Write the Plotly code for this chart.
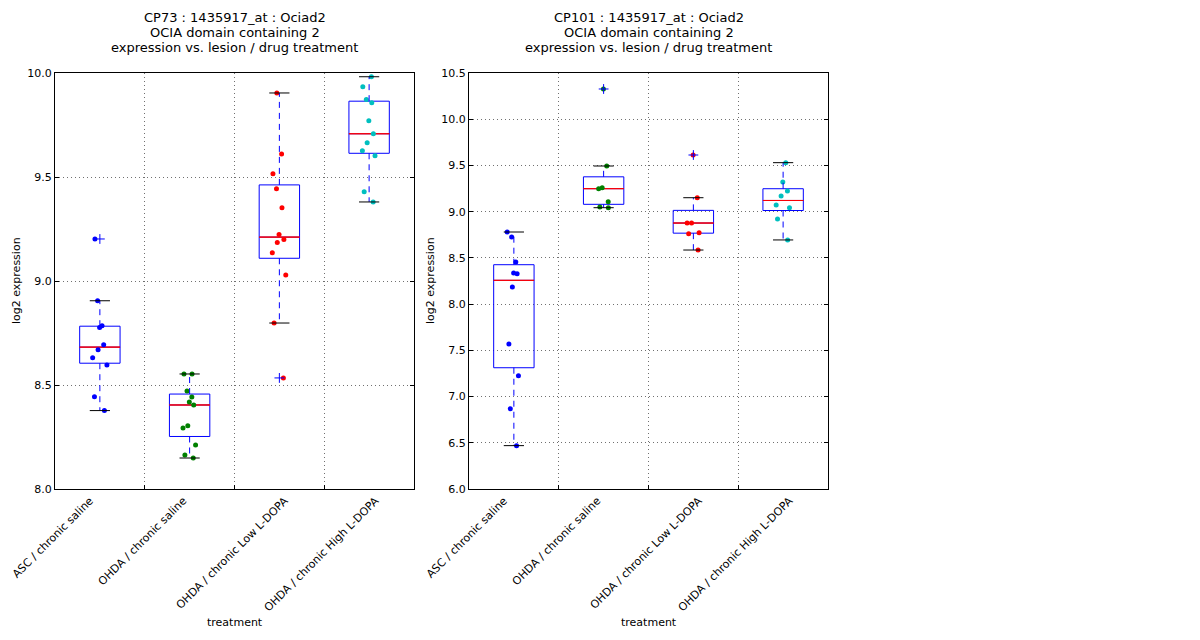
import numpy as np
import plotly.graph_objects as go

# ---------------- data ----------------
categories = ["ASC / chronic saline", "OHDA / chronic saline",
              "OHDA / chronic Low L-DOPA", "OHDA / chronic High L-DOPA"]
title_lines_cp73 = ["CP73 : 1435917_at : Ociad2", "OCIA domain containing 2",
                    "expression vs. lesion / drug treatment"]
title_lines_cp101 = ["CP101 : 1435917_at : Ociad2", "OCIA domain containing 2",
                     "expression vs. lesion / drug treatment"]

cp73_asc_saline = [9.202, 8.905, 8.785, 8.776, 8.694, 8.670, 8.631, 8.596, 8.444, 8.377]
cp73_ohda_saline = [8.553, 8.553, 8.471, 8.442, 8.418, 8.404, 8.304, 8.293, 8.212, 8.163, 8.149]
cp73_ohda_low = [9.904, 9.611, 9.516, 9.444, 9.352, 9.223, 9.199, 9.185, 9.136, 9.029, 8.798, 8.534]
cp73_ohda_high = [9.982, 9.934, 9.872, 9.857, 9.771, 9.708, 9.665, 9.626, 9.602, 9.429, 9.380]

cp101_asc_saline = [8.780, 8.726, 8.456, 8.337, 8.329, 8.185, 7.569, 7.226, 6.869, 6.469]
cp101_ohda_saline = [10.327, 9.494, 9.260, 9.249, 9.108, 9.051, 9.043]
cp101_ohda_low = [9.613, 9.151, 8.877, 8.877, 8.773, 8.762, 8.585]
cp101_ohda_high = [9.530, 9.321, 9.224, 9.170, 9.072, 9.043, 8.921, 8.694]

cp73_yticks = [8.0, 8.5, 9.0, 9.5, 10.0]
cp101_yticks = [6.0, 6.5, 7.0, 7.5, 8.0, 8.5, 9.0, 9.5, 10.0, 10.5]

# ---------------- style ----------------
W, H = 1200, 640
FONT = "DejaVu Sans"
point_colors = ["#0000ff", "#008000", "#ff0000", "#00bfbf"]
BOXW = 0.45
# small per-label nudges (in axis units) mimicking matplotlib's rotated-bbox alignment
label_nudge = [-0.11, -0.07, 0.06, 0.07]

fig = go.Figure()


def px_x(p):
    return p / W


def px_y(p):
    return 1 - p / H


def add_panel(groups, xa, ya):
    common = dict(xaxis=xa, yaxis=ya, showlegend=False, hoverinfo="skip")
    for i, vals in enumerate(groups):
        pos = i + 1
        a = np.array(vals)
        q1, med, q3 = np.percentile(a, [25, 50, 75])
        iqr = q3 - q1
        lo = a[a >= q1 - 1.5 * iqr].min()
        hi = a[a <= q3 + 1.5 * iqr].max()
        out = a[(a < lo) | (a > hi)]
        # whiskers
        fig.add_trace(go.Scatter(x=[pos, pos, None, pos, pos],
                                 y=[q3, hi, None, q1, lo], mode="lines",
                                 line=dict(color="#0000ff", width=1, dash="6px,5px"),
                                 **common))
        # caps
        c = BOXW / 4
        fig.add_trace(go.Scatter(x=[pos - c, pos + c, None, pos - c, pos + c],
                                 y=[hi, hi, None, lo, lo], mode="lines",
                                 line=dict(color="black", width=1), **common))
        # outliers
        if len(out):
            fig.add_trace(go.Scatter(x=[pos] * len(out), y=out, mode="markers",
                                     marker=dict(symbol="cross-thin", size=7,
                                                 line=dict(color="#0000ff", width=1)),
                                     **common))
        # box body
        fig.add_trace(go.Box(x=[pos], q1=[q1], median=[med], q3=[q3],
                             lowerfence=[q1], upperfence=[q3], width=BOXW,
                             whiskerwidth=0, boxpoints=False,
                             line=dict(color="#0000ff", width=1),
                             fillcolor="rgba(0,0,0,0)", **common))
        # median (zero-height red box drawn over the blue median)
        fig.add_trace(go.Box(x=[pos], q1=[med], median=[med], q3=[med],
                             lowerfence=[med], upperfence=[med], width=BOXW,
                             whiskerwidth=0, boxpoints=False,
                             line=dict(color="#ff0000", width=0.75),
                             fillcolor="rgba(0,0,0,0)", **common))
    # jittered points
    for i, vals in enumerate(groups):
        pos = i + 1
        fig.add_trace(go.Box(x=[pos] * len(vals), y=vals, boxpoints="all",
                             jitter=0.45, pointpos=0, width=BOXW,
                             line=dict(color="rgba(0,0,0,0)", width=0),
                             fillcolor="rgba(0,0,0,0)",
                             marker=dict(color=point_colors[i], size=5),
                             **common))


add_panel([cp73_asc_saline, cp73_ohda_saline, cp73_ohda_low, cp73_ohda_high], "x", "y")
add_panel([cp101_asc_saline, cp101_ohda_saline, cp101_ohda_low, cp101_ohda_high], "x2", "y2")

grid = dict(gridcolor="#707070", gridwidth=1, griddash="1px,3px")


def xaxis_cfg(domain, anchor):
    return dict(domain=domain, anchor=anchor, range=[0.5, 4.5],
                tickmode="array",
                tickvals=[k + 1 + label_nudge[k] for k in range(len(categories))],
                ticktext=categories,
                tickangle=-45, ticks="", showgrid=False, zeroline=False,
                showline=True, linecolor="black", linewidth=1, mirror=True,
                tickfont=dict(family=FONT, size=11, color="black"),
                automargin=False,
                minor=dict(tickmode="array", tickvals=[1.5, 2.5, 3.5],
                           ticks="inside", ticklen=4, tickcolor="black",
                           showgrid=True, **grid))


def yaxis_cfg(domain, anchor, rng, tv):
    return dict(domain=domain, anchor=anchor, range=rng, tickmode="array",
                tickvals=tv, ticktext=[f"{v:.1f}" for v in tv],
                ticks="inside", ticklen=4, tickcolor="black",
                showgrid=True, zeroline=False, showline=True,
                linecolor="black", linewidth=1, mirror="ticks",
                tickfont=dict(family=FONT, size=11, color="black"),
                automargin=False, **grid)


ydom = [px_y(489), px_y(73)]
fig.update_layout(
    width=W, height=H, margin=dict(l=0, r=0, t=0, b=0),
    paper_bgcolor="white", plot_bgcolor="white", boxmode="overlay",
    font=dict(family=FONT, size=11, color="black"),
    xaxis=xaxis_cfg([px_x(55), px_x(414)], "y"),
    yaxis=yaxis_cfg(ydom, "x", [8.0, 10.0], cp73_yticks),
    xaxis2=xaxis_cfg([px_x(469), px_x(828)], "y2"),
    yaxis2=yaxis_cfg(ydom, "x2", [6.0, 10.5], cp101_yticks),
)

annots = []
for cx, lines in [((55 + 414) / 2, title_lines_cp73), ((469 + 828) / 2, title_lines_cp101)]:
    for ly, txt in zip([18, 33, 47], lines):
        annots.append(dict(x=px_x(cx), y=px_y(ly), xref="paper", yref="paper",
                           text=txt, showarrow=False, xanchor="center", yanchor="middle",
                           font=dict(family=FONT, size=13, color="black")))
    annots.append(dict(x=px_x(cx), y=px_y(622), xref="paper", yref="paper",
                       text="treatment", showarrow=False, xanchor="center",
                       yanchor="middle", font=dict(family=FONT, size=11, color="black")))
for lx in [16, 430]:
    annots.append(dict(x=px_x(lx), y=px_y(281), xref="paper", yref="paper",
                       text="log2 expression", showarrow=False, textangle=-90,
                       xanchor="center", yanchor="middle",
                       font=dict(family=FONT, size=11, color="black")))
fig.update_layout(annotations=annots)

fig.write_html("out.html", config={"displayModeBar": False},
               post_script="document.body.style.margin='0';document.body.style.overflow='hidden';")
